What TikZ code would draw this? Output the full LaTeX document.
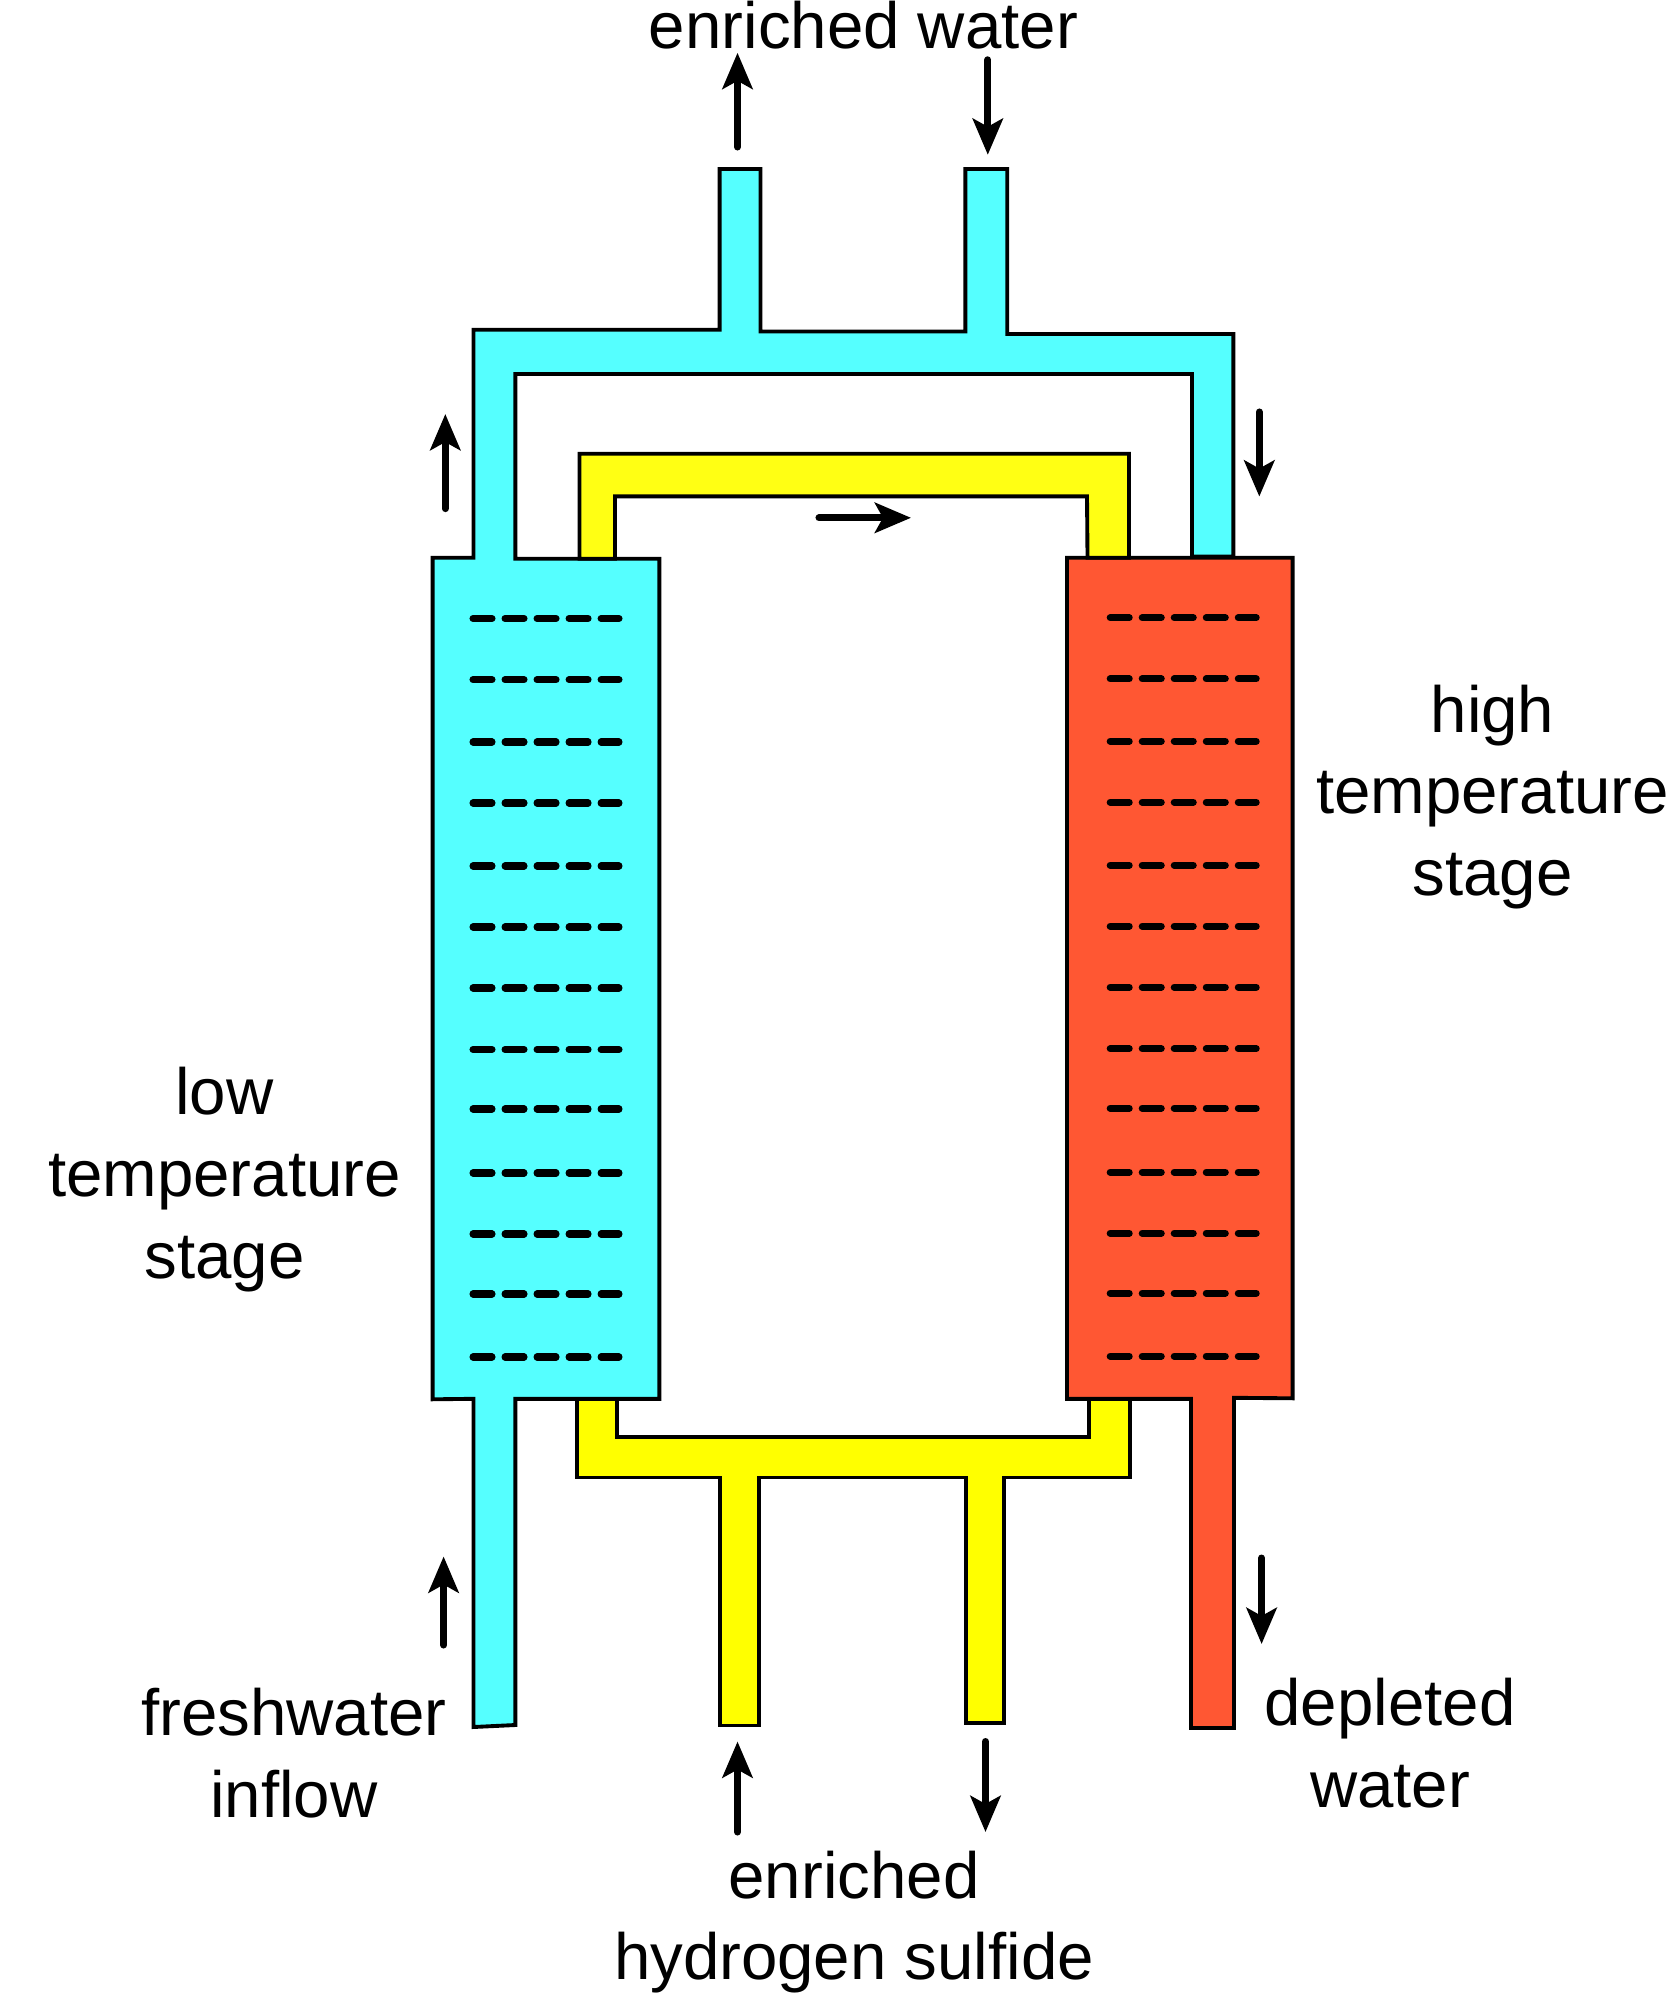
\documentclass[tikz,border=0pt]{standalone}
\usepackage{fontspec}
\setmainfont{Liberation Sans}
\usepackage{tikz}
\usetikzlibrary{arrows.meta}
\tikzset{>={Stealth[length=3.6mm,width=3.0mm,inset=0.8mm]}}
\definecolor{coldblue}{HTML}{55FFFF}
\definecolor{hotred}{HTML}{FF5733}
\definecolor{gasyellow}{HTML}{FFFF14}
\definecolor{liqyellow}{HTML}{FFFF00}

\begin{document}
\begin{tikzpicture}[x=0.01cm,y=-0.01cm]
          \tikzstyle{pipe} = [draw=black, line width=1.1pt, line join=miter]
          \tikzstyle{tray} = [line width=2pt, line cap=round, dash pattern=on 1.9mm off 1.3mm]
          \tikzstyle{flow} = [->, line width=2pt, line cap=round]
          \tikzstyle{lbl} = [align=center, inner sep=0pt, font=\fontsize{18.6}{23.2}\selectfont]

          \useasboundingbox (0,0) rectangle (1668,2000);

          % water loop and low temperature stage
          \draw[pipe, fill=coldblue] (473.5,1727) -- (473.5,1398.8) -- (432.6,1399.3) -- (432.6,557.7) -- (473.5,557.7) -- (473.5,329.7)
            -- (719.6,329.7) -- (719.6,169) -- (760.5,169) -- (760.5,331.5) -- (965.4,331.5) -- (965.4,169) -- (1007.3,169)
            -- (1007.3,334) -- (1233.4,334) -- (1233.4,556.5) -- (1192,556.5) -- (1192,374) -- (515.4,374) -- (515.4,558.7)
            -- (659.4,558.7) -- (659.4,1398.8) -- (515.4,1398.8) -- (515.4,1725) -- cycle;

          % high temperature stage
          \draw[pipe, fill=hotred] (1067,557.7) -- (1292.6,557.7) -- (1292.6,1398.3) -- (1234,1397.8) -- (1234,1728) -- (1191,1728)
            -- (1191,1398.8) -- (1067,1398.8) -- cycle;

          % hydrogen sulfide lines
          \draw[pipe, fill=gasyellow] (579.5,558.7) -- (579.5,453.7) -- (1129,453.7) -- (1129,557.7) -- (1087.5,557.7) -- (1087,496.4)
            -- (615,496.4) -- (615,558.7) -- cycle;
          \draw[pipe, fill=liqyellow] (576.6,1398.8) -- (576.6,1477.5) -- (719.6,1477.5) -- (719.6,1725.5) -- (758.8,1725.5) -- (758.8,1477.5)
            -- (966,1477.5) -- (966,1723) -- (1003.8,1723) -- (1003.8,1477.5) -- (1129.6,1477.5) -- (1129.6,1398.8) -- (1088.8,1398.8)
            -- (1088.8,1436.6) -- (617,1436.6) -- (617,1398.8) -- cycle;

          \foreach \y in {618.5,679.7,742,803,866,927,988,1049.5,1109,1173,1234,1294,1357} {
            \draw[tray] (473,\y) -- (619,\y);
            \draw[tray] (1110.2,\y-0.8) -- (1256.2,\y-0.8);
          }

          \node[lbl] (water) at (863.5,25) {enriched water};
          \node[lbl] (hightemp) at (1492.5,797) {high\\temperature\\stage};
          \node[lbl] (lowtemp) at (224.5,1179.5) {low\\temperature\\stage};
          \node[lbl] (freshwater) at (294,1753) {freshwater\\inflow};
          \node[lbl] (depleted) at (1390,1743) {depleted\\water};
          \node[lbl] (sulfide) at (854,1922) {enriched\\hydrogen sulfide};

          \coordinate (outa) at (737.5,147);
          \coordinate (outb) at (737.5,52.8);
          \coordinate (ina) at (987.8,59.8);
          \coordinate (inb) at (987.8,154.8);
          \coordinate (risea) at (445.3,508.6);
          \coordinate (riseb) at (445.3,414);
          \coordinate (falla) at (1259.3,412);
          \coordinate (fallb) at (1259.3,496.6);
          \coordinate (gasa) at (819,517.8);
          \coordinate (gasb) at (911,517.8);
          \coordinate (fresha) at (443.6,1645);
          \coordinate (freshb) at (443.6,1556.5);
          \coordinate (depla) at (1261.6,1558);
          \coordinate (deplb) at (1261.6,1644);
          \coordinate (suina) at (737.5,1832);
          \coordinate (suinb) at (737.5,1741.5);
          \coordinate (suouta) at (985.5,1741.5);
          \coordinate (suoutb) at (985.5,1832);
          \draw[flow] (outa) to (outb);
          \draw[flow] (ina) to (inb);
          \draw[flow] (risea) to (riseb);
          \draw[flow] (falla) to (fallb);
          \draw[flow] (gasa) to (gasb);
          \draw[flow] (fresha) to (freshb);
          \draw[flow] (depla) to (deplb);
          \draw[flow] (suina) to (suinb);
          \draw[flow] (suouta) to (suoutb);
        \end{tikzpicture}
\end{document}
